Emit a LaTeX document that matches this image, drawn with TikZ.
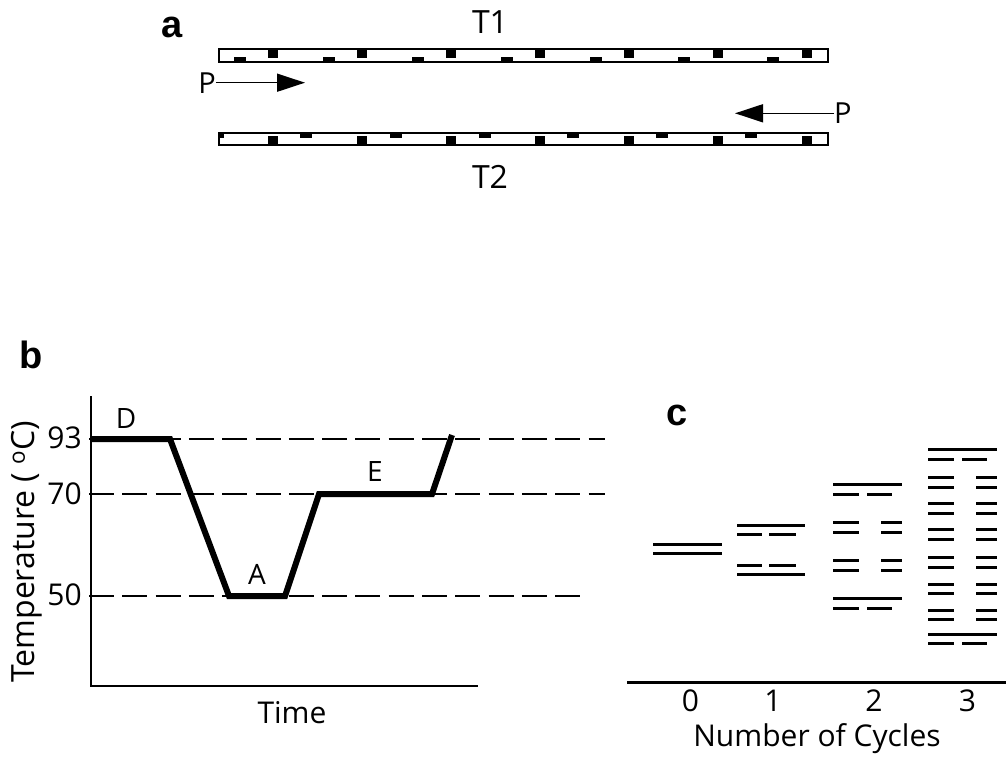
\documentclass[tikz,border=0pt]{standalone}
\usepackage{fontspec}
\setmainfont{Open Sans}
\newfontfamily\labelfont{Liberation Sans}
\usetikzlibrary{arrows.meta}
\begin{document}
\begin{tikzpicture}[x=1pt,y=-1pt,
  panel/.style={font=\labelfont\bfseries\fontsize{38}{42}\selectfont, inner sep=0pt, anchor=base},
  strandtxt/.style={font=\fontsize{32}{36}\selectfont, inner sep=0pt, anchor=base},
  steptxt/.style={font=\fontsize{28}{32}\selectfont, inner sep=0pt, anchor=base},
  ticktxt/.style={font=\fontsize{30}{34}\selectfont, inner sep=0pt, anchor=base east},
  axistxt/.style={font=\fontsize{30}{34}\selectfont, inner sep=0pt, anchor=base},
  strand/.style={draw, line width=2pt},
  primer/.style={line width=1.5pt, -{Triangle[length=28pt,width=18pt]}},
  level/.style={line width=2.5pt, dash pattern=on 25pt off 8.3pt},
  profile/.style={line width=6pt},
  axisline/.style={line width=2pt},
  band/.style={line width=3pt}]
\useasboundingbox (0,0) rectangle (1006,759);

% ---------- panel a: two template strands with primers ----------
\node[panel] (la) at (172,38) {a};
\node[strandtxt] (t1) at (490,34) {T1};
\node[strandtxt] (t2) at (490,189) {T2};

\draw[strand] (219,49) rectangle (828,62);
\draw[strand] (219,133) rectangle (828,145.5);
\foreach \x in {273,362,451,540,628.5,718,807} {
  \fill (\x-5,49) rectangle (\x+5,58.5);
  \fill (\x-5,136.5) rectangle (\x+5,146);
}
\foreach \x in {240,329,417.5,507,595.5,684,773}
  \fill (\x-6,57.5) rectangle (\x+6,62.5);
\foreach \x in {306,395.5,484.5,573,662,751}
  \fill (\x-6,133) rectangle (\x+6,138);
\fill (219,133) rectangle (224,138);

\node[strandtxt, font=\fontsize{29}{32}\selectfont] (pl) at (207,94) {P};
\coordinate (plend) at (305,82.7);
\draw[primer] (pl.east |- plend) -- (plend);
\node[strandtxt, font=\fontsize{29}{32}\selectfont, anchor=base west] (pr) at (834,124) {P};
\coordinate (prend) at (735,113.3);
\draw[primer] (pr.west |- prend) -- (prend);

% ---------- panel b: temperature profile ----------
\node[panel] (lb) at (31,368) {b};
\draw[axisline] (91,396) -- (91,686) -- (478,686);
\draw[level] (89,439) -- (605,439);
\draw[level] (89,494) -- (605,494);
\draw[level] (89,596) -- (580,596);
\draw[profile] (91,439) -- (170,439) -- (229,596) -- (285,596)
  -- (319,494) -- (432,494) -- (452,435);
\node[ticktxt] (v93) at (82,448) {93};
\node[ticktxt] (v70) at (82,504) {70};
\node[ticktxt] (v50) at (82,605) {50};
\node[steptxt] (sd) at (126,428) {D};
\node[steptxt] (sa) at (257,584) {A};
\node[steptxt] (se) at (375,481) {E};
\node[axistxt] (time) at (292,723) {Time};
\node[axistxt, font=\fontsize{32}{36}\selectfont, rotate=90, anchor=base west] (temp) at (34,683)
  {Temperature ( \textsuperscript{o}C)};

% ---------- panel c: products after each cycle ----------
\node[panel] (lc) at (677,425) {c};
\draw[band] (627,682) -- (1006,682);
% cycle 0
\draw[band] (653,544) -- (722,544);
\draw[band] (653,553) -- (722,553);
% cycle 1
\draw[band] (737,525) -- (805,525);
\draw[band] (737,574) -- (805,574);
\foreach \y in {534,565} {
  \draw[band] (737,\y) -- (762,\y);
  \draw[band] (769,\y) -- (796,\y);
}
% cycle 2
\draw[band] (833,484) -- (902,484);
\draw[band] (833,598) -- (902,598);
\foreach \y in {494,608} {
  \draw[band] (833,\y) -- (859,\y);
  \draw[band] (867,\y) -- (892,\y);
}
\foreach \y in {522,532,560,570} {
  \draw[band] (833,\y) -- (859,\y);
  \draw[band] (881,\y) -- (902,\y);
}
% cycle 3
\draw[band] (928,449) -- (997,449);
\draw[band] (928,634) -- (997,634);
\foreach \y in {459,643} {
  \draw[band] (928,\y) -- (954,\y);
  \draw[band] (962,\y) -- (987,\y);
}
\foreach \y in {477,487,503,513,529,539,557,567,584,593,610,619} {
  \draw[band] (928,\y) -- (954,\y);
  \draw[band] (976,\y) -- (997,\y);
}
\node[axistxt] (c0) at (690.5,711) {0};
\node[axistxt] (c1) at (773,711) {1};
\node[axistxt] (c2) at (874,711) {2};
\node[axistxt] (c3) at (967.5,711) {3};
\node[axistxt] (ncyc) at (817,746) {Number of Cycles};
\end{tikzpicture}
\end{document}
